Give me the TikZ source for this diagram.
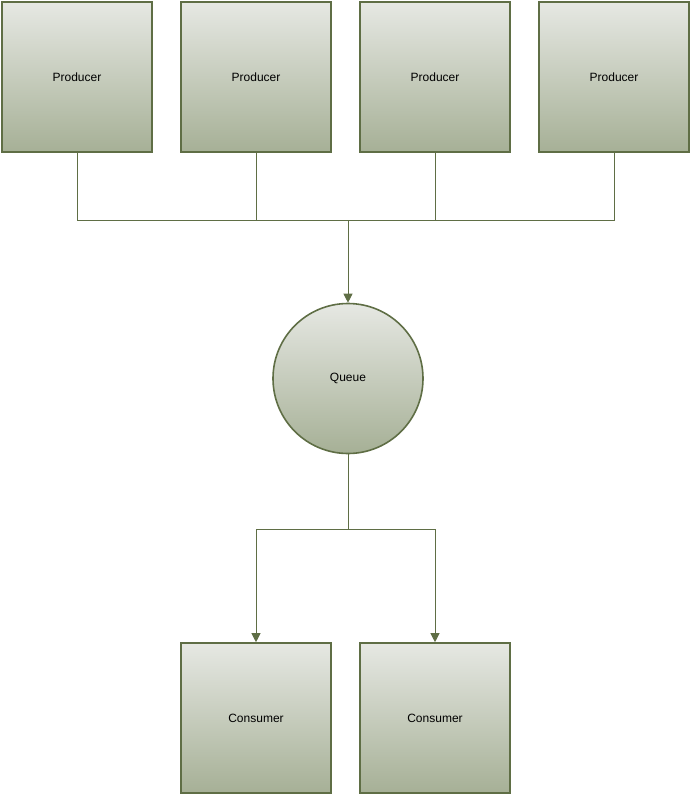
\documentclass[tikz,border=0pt]{standalone}
\usepackage{fontspec}
\setmainfont{Liberation Sans}
\usetikzlibrary{arrows.meta}
\definecolor{topc}{HTML}{E6E8E3}
\definecolor{botc}{HTML}{A6B096}
\definecolor{edge}{HTML}{5F6E45}
\tikzset{
  box/.style={draw=edge, line width=1.6pt, rectangle, minimum width=150pt, minimum height=150pt, inner sep=0pt, top color=topc, bottom color=botc, font=\fontsize{12}{14}\selectfont},
  queue/.style={draw=edge, line width=1.6pt, circle, minimum size=150pt, inner sep=0pt, top color=topc, bottom color=botc, font=\fontsize{12}{14}\selectfont},
  conn/.style={draw=edge, line width=1pt},
  arr/.style={conn, -{Triangle[width=9pt,length=9pt]}}
}
\begin{document}
\begin{tikzpicture}[x=1pt,y=-1pt]
\useasboundingbox (0,0) rectangle (691,795);
\node[box] (p1) at (77,77) {Producer};
\node[box] (p2) at (256,77) {Producer};
\node[box] (p3) at (435,77) {Producer};
\node[box] (p4) at (614,77) {Producer};
\node[queue] (q) at (348,378.5) {Queue};
\node[box] (c1) at (256,718) {Consumer};
\node[box] (c2) at (435,718) {Consumer};
\coordinate (j) at (348,220);
\coordinate (k) at (348,529);
\draw[conn] (p1.south) |- (j);
\draw[conn] (p2.south) |- (j);
\draw[conn] (p3.south) |- (j);
\draw[conn] (p4.south) |- (j);
\draw[arr] (j) -- (q.north);
\draw[conn] (q.south) -- (k);
\draw[arr] (k) -| (c1.north);
\draw[arr] (k) -| (c2.north);
\end{tikzpicture}
\end{document}
